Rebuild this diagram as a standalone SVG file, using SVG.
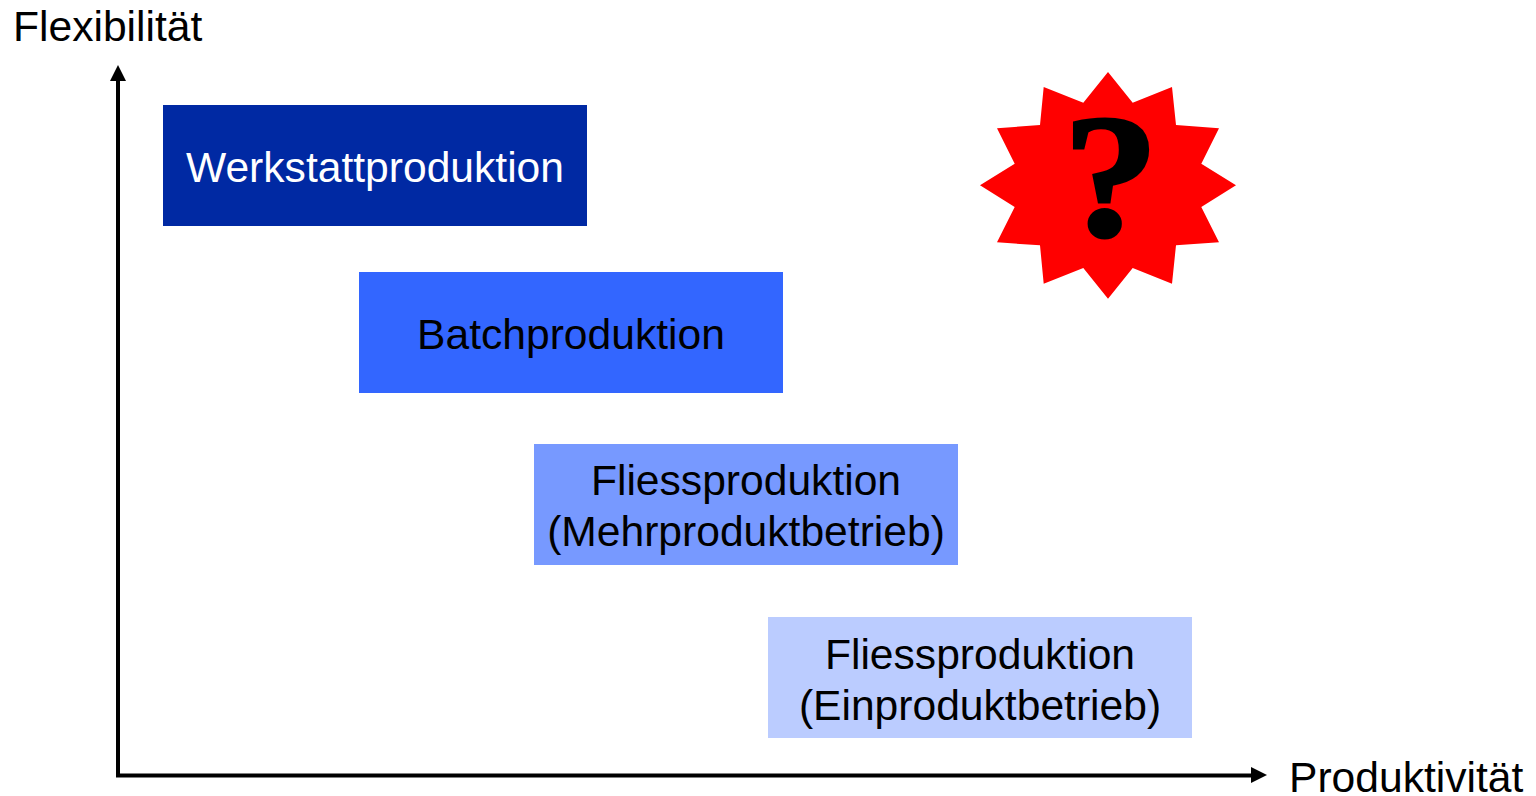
<svg xmlns="http://www.w3.org/2000/svg" width="1536" height="796" viewBox="0 0 1536 796">
<style>
text{font-family:"Liberation Sans",Arial,sans-serif;font-size:42.600px;fill:#000;text-anchor:middle}
.ax{text-anchor:start}
.ln{fill:none;stroke:#000;stroke-width:4}
.hd{fill:#000}
</style>
<rect width="1536" height="796" fill="#fff"/>
<g id="connectors">
<path class="ln" d="M118 80V775.500H1252"/>
<polygon class="hd" points="118,65 126,81 110,81"/>
<polygon class="hd" points="1267,775 1251,767 1251,783"/>
</g>
<g id="label-flex"><text class="ax" x="13" y="41">Flexibilität</text></g>
<g id="label-prod"><text class="ax" x="1289" y="792">Produktivität</text></g>
<g id="werkstatt"><rect x="163" y="105" width="424" height="121" fill="#0029A3"/><text x="375" y="182" style="fill:#fff">Werkstattproduktion</text></g>
<g id="batch"><rect x="359" y="272" width="424" height="121" fill="#3366FF"/><text x="571" y="349">Batchproduktion</text></g>
<g id="mehr"><rect x="534" y="444" width="424" height="121" fill="#7799FF"/><text x="746" y="495">Fliessproduktion</text><text x="746" y="546">(Mehrproduktbetrieb)</text></g>
<g id="ein"><rect x="768" y="617" width="424" height="121" fill="#BBCCFF"/><text x="980" y="669">Fliessproduktion</text><text x="980" y="720">(Einproduktbetrieb)</text></g>
<g id="star">
<polygon fill="#f00" points="1108,72 1132.700,102.700 1172,87 1176,125 1219,128.300 1201.300,163.700 1236,185.300 1201.300,207 1219,242.300 1176,245.300 1172,283.700 1132.700,268 1108,298.700 1083.300,268 1043.700,283.700 1040,245.300 997,242.300 1014.700,207 980,185.300 1014.700,163.700 997,128.300 1040,125 1043.700,87 1083.300,102.700"/>
<text x="1111" y="236" style="font-family:'Liberation Serif',serif;font-weight:bold;font-size:176px;stroke:#000;stroke-width:3" transform="translate(1111 0) scale(1.09 1) translate(-1111 0)">?</text>
</g>
</svg>
